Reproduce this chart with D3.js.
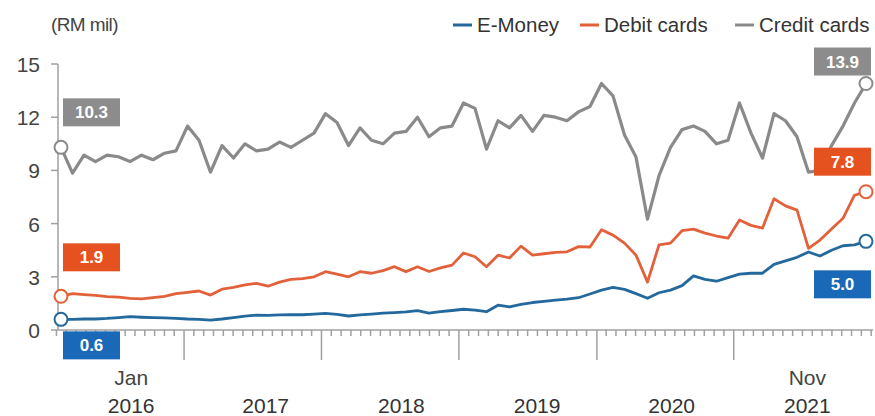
<!DOCTYPE html>
<html lang="en">
<head>
  <meta charset="utf-8" />
  <title>E-Money, debit and credit card transactions</title>
  <style>
    body { margin: 0; background: #fff; font-family: "Liberation Sans", Arial, sans-serif; }
    .axis-line { stroke: #a0a0a0; stroke-width: 1.5px; fill: none; }
    .tick-lbl { fill: #444; font-size: 21px; }
    .series { fill: none; stroke-linejoin: round; stroke-linecap: round; }
    .val-box text { fill: #fff; font-size: 17px; font-weight: bold; text-anchor: middle; }
  </style>
</head>
<body>
<script src="https://cdn.jsdelivr.net/npm/d3@7"></script>
<script>
  // monthly, Jan 2016 .. Nov 2021 (RM mil)
  const months = d3.timeMonth.range(new Date(2016, 0, 1), new Date(2021, 11, 1));

  const eMoney = [
    0.6, 0.6, 0.62, 0.62, 0.65, 0.7, 0.75, 0.72, 0.7, 0.68,
    0.66, 0.62, 0.6, 0.56, 0.62, 0.7, 0.78, 0.84, 0.82, 0.85,
    0.86, 0.86, 0.9, 0.94, 0.88, 0.79, 0.85, 0.9, 0.95, 0.98,
    1.02, 1.09, 0.95, 1.03, 1.1, 1.17, 1.12, 1.03, 1.4, 1.31,
    1.45, 1.55, 1.62, 1.69, 1.74, 1.82, 2.03, 2.25, 2.4, 2.29,
    2.05, 1.79, 2.1, 2.25, 2.5, 3.05, 2.85, 2.75, 2.95, 3.15,
    3.2, 3.2, 3.7, 3.9, 4.1, 4.4, 4.17, 4.5, 4.75, 4.8,
    5.0
  ];

  const debitCards = [
    1.9, 2.05, 2.0, 1.95, 1.88, 1.85, 1.78, 1.75, 1.82, 1.9,
    2.05, 2.12, 2.2, 1.97, 2.3, 2.4, 2.55, 2.63, 2.47, 2.7,
    2.85, 2.9, 3.0, 3.29, 3.15, 3.0, 3.29, 3.2, 3.35, 3.57,
    3.29, 3.57, 3.3, 3.5, 3.66, 4.34, 4.13, 3.57, 4.22, 4.06,
    4.73, 4.22, 4.3, 4.38, 4.41, 4.7, 4.68, 5.65, 5.35, 4.9,
    4.22, 2.7, 4.8, 4.9, 5.6, 5.69, 5.46, 5.3, 5.18, 6.2,
    5.9, 5.75, 7.4, 7.0, 6.76, 4.6, 5.07, 5.7, 6.3, 7.6,
    7.8
  ];

  const creditCards = [
    10.3, 8.85, 9.86, 9.5, 9.86, 9.77, 9.5, 9.86, 9.6, 9.97,
    10.1, 11.5, 10.7, 8.9, 10.4, 9.7, 10.5, 10.1, 10.2, 10.6,
    10.3, 10.7, 11.1, 12.2, 11.7, 10.4, 11.4, 10.7, 10.5, 11.1,
    11.2, 12.0, 10.9, 11.4, 11.5, 12.8, 12.5, 10.2, 11.8, 11.4,
    12.1, 11.2, 12.1, 12.0, 11.8, 12.3, 12.6, 13.9, 13.2, 11.0,
    9.75, 6.25, 8.7, 10.3, 11.3, 11.5, 11.2, 10.5, 10.7, 12.8,
    11.1, 9.7, 12.2, 11.8, 10.9, 8.9, 9.0, 10.4, 11.5, 12.8,
    13.9
  ];

  const yTicks = [0, 3, 6, 9, 12, 15];
  const yearLabels = ["2016", "2017", "2018", "2019", "2020", "2021"];
  const yearLabelAt = [6.1, 17.8, 29.6, 41.4, 53.1, 64.9];   // month index of label centre
  const yearBreaks = [10.7, 22.65, 34.6, 46.6, 58.5];         // month index of long ticks

  const series = [
    { name: "E-Money", values: eMoney, line: "#23699c", box: "#1a68b8", width: 2.8 },
    { name: "Debit cards", values: debitCards, line: "#e2613a", box: "#e6521f", width: 2.8 },
    { name: "Credit cards", values: creditCards, line: "#8a8a8a", box: "#8c8c8c", width: 3.2 }
  ];

  const width = 875, height = 416;

  const svg = d3.select("body").append("svg")
    .attr("width", width)
    .attr("height", height);

  const x = d3.scaleLinear().domain([0, months.length - 1]).range([61, 866]);
  const y = d3.scaleLinear().domain([0, 15]).range([330, 64]);

  // y axis
  svg.append("line").attr("class", "axis-line")
    .attr("x1", 58).attr("x2", 58).attr("y1", y(15)).attr("y2", y(0));
  svg.selectAll(".ytick").data(yTicks).join("line")
    .attr("class", "axis-line")
    .attr("x1", 51).attr("x2", 58)
    .attr("y1", d => y(d)).attr("y2", d => y(d));
  svg.selectAll(".ylbl").data(yTicks).join("text")
    .attr("class", "tick-lbl")
    .attr("x", 40).attr("y", d => y(d) + 8)
    .attr("text-anchor", "end")
    .text(d => d);

  svg.append("text")
    .attr("x", 51).attr("y", 31)
    .attr("fill", "#444")
    .style("font-size", "19px")
    .style("letter-spacing", "-0.6px")
    .text("(RM mil)");

  // x axis
  svg.append("line").attr("class", "axis-line")
    .attr("x1", 58).attr("x2", 873).attr("y1", y(0)).attr("y2", y(0));

  const step = (yearBreaks[yearBreaks.length - 1] - yearBreaks[0]) / (yearBreaks.length - 1) / 14;
  const minor = d3.range(yearBreaks[0] - step * 13, x.domain()[1] + 0.6, step)
    .filter(m => !yearBreaks.some(b => Math.abs(b - m) < step / 2));
  svg.selectAll(".minor").data(minor).join("line")
    .attr("class", "axis-line")
    .attr("x1", d => x(d)).attr("x2", d => x(d))
    .attr("y1", y(0)).attr("y2", y(0) + 6);
  svg.selectAll(".major").data(yearBreaks).join("line")
    .attr("class", "axis-line")
    .attr("x1", d => x(d)).attr("x2", d => x(d))
    .attr("y1", y(0)).attr("y2", y(0) + 30);

  svg.selectAll(".year").data(yearLabels).join("text")
    .attr("class", "tick-lbl")
    .style("fill", "#333")
    .attr("x", (d, i) => x(yearLabelAt[i]))
    .attr("y", 413)
    .attr("text-anchor", "middle")
    .text(d => d);
  svg.append("text").attr("class", "tick-lbl")
    .attr("x", x(yearLabelAt[0])).attr("y", 385)
    .attr("text-anchor", "middle").text("Jan");
  svg.append("text").attr("class", "tick-lbl")
    .attr("x", x(yearLabelAt[5])).attr("y", 385)
    .attr("text-anchor", "middle").text("Nov");

  // lines
  const line = d3.line().x((d, i) => x(i)).y(d => y(d));
  svg.selectAll(".series").data(series.slice().reverse()).join("path")
    .attr("class", "series")
    .attr("stroke", d => d.line)
    .attr("stroke-width", d => d.width)
    .attr("d", d => line(d.values));

  // end point markers
  const last = months.length - 1;
  series.forEach(s => {
    [0, last].forEach(i => {
      svg.append("circle")
        .attr("cx", x(i)).attr("cy", y(s.values[i]))
        .attr("r", 6.5)
        .attr("fill", "#fff")
        .attr("stroke", s.line)
        .attr("stroke-width", 2);
    });
  });

  // value boxes: [series index, point index, dy of box top from the point]
  const boxes = [
    [2, 0, -49], [1, 0, -53], [0, 0, 12],
    [2, last, -36], [1, last, -44], [0, last, 29]
  ];
  boxes.forEach(([si, pi, dy]) => {
    const s = series[si];
    const v = s.values[pi];
    const bw = 57, bh = 28;
    const bx = pi === 0 ? x(pi) + 2 : x(pi) - 52;
    const by = y(v) + dy;
    const g = svg.append("g").attr("class", "val-box");
    g.append("rect")
      .attr("x", bx).attr("y", by)
      .attr("width", bw).attr("height", bh)
      .attr("fill", s.box);
    g.append("text")
      .attr("x", bx + bw / 2).attr("y", by + bh / 2 + 6)
      .text(d3.format(".1f")(v));
  });

  // legend
  const legendX = [453, 580, 735];
  const legend = svg.selectAll(".legend").data(series).join("g")
    .attr("transform", (d, i) => `translate(${legendX[i]},25)`);
  legend.append("line")
    .attr("x1", 0).attr("x2", 19)
    .attr("stroke", d => d.line)
    .attr("stroke-width", 3);
  legend.append("text")
    .attr("x", 24).attr("y", 7)
    .attr("fill", "#333")
    .style("font-size", "20.5px")
    .text(d => d.name);
</script>
</body>
</html>
